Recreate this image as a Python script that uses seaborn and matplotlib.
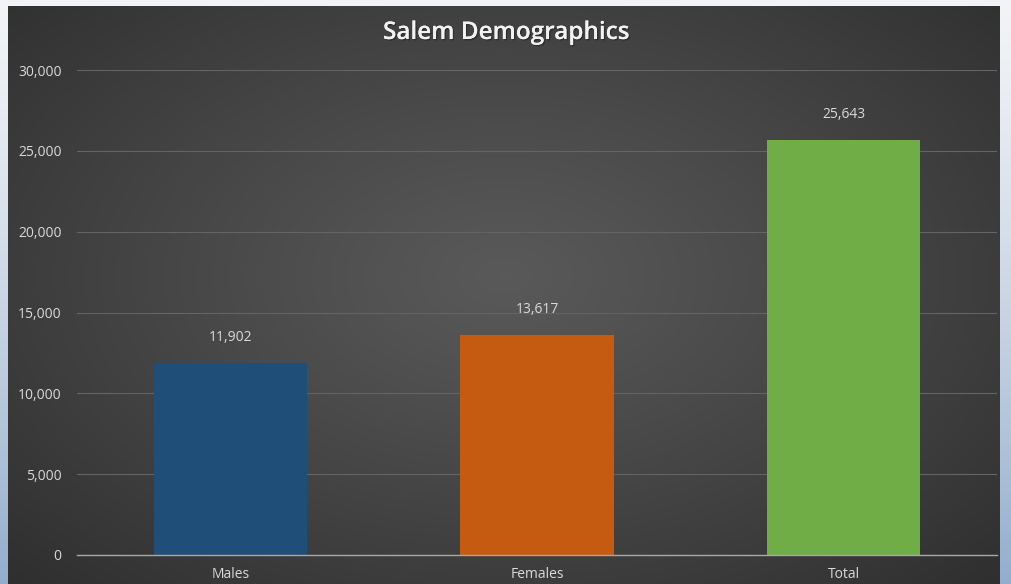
import numpy as np
import pandas as pd
import matplotlib
matplotlib.use("Agg")
import matplotlib.pyplot as plt
import matplotlib.patheffects as pe
import seaborn as sns
from matplotlib.ticker import FuncFormatter

categories = ["Males", "Females", "Total"]
population = [11902, 13617, 25643]
bar_colors = ["#1F4E79", "#C55A11", "#70AD47"]
y_ticks = [0, 5000, 10000, 15000, 20000, 25000, 30000]

df = pd.DataFrame({"group": categories, "count": population})

sns.set_theme(style="dark")
plt.rcParams["font.family"] = ["Open Sans", "DejaVu Sans"]

W, H = 1012, 584
fig = plt.figure(figsize=(W / 100, H / 100), dpi=100)

# outer frame: light top fading to blue-grey at the bottom
frame = fig.add_axes([0, 0, 1, 1], zorder=-3)
v = np.linspace(0, 1, 200)[:, None]
top = np.array([0.95, 0.955, 0.965])
bot = np.array([0.58, 0.68, 0.80])
grad = top + (bot - top) * (v[..., None] ** 1.3)
frame.imshow(np.repeat(grad, 2, axis=1), aspect="auto", extent=[0, 1, 0, 1])
frame.set_axis_off()

# dark radial gradient chart area
bg = fig.add_axes([8 / W, 0, 992 / W, 578 / H], zorder=-2)
yy, xx = np.mgrid[0:300, 0:500]
cx, cy = 250, 140
r = np.sqrt(((xx - cx) / 250) ** 2 + ((yy - cy) / 160) ** 2)
r = np.clip(r / 1.55, 0, 1)
val = 0.35 - (0.35 - 0.165) * r ** 1.1
bg.imshow(np.dstack([val, val, val]), aspect="auto", extent=[0, 1, 0, 1])
bg.set_axis_off()

ax = fig.add_axes([77 / W, 1 - 555 / H, 920 / W, (555 - 70) / H])
ax.set_facecolor("none")
sns.barplot(data=df, x="group", y="count", hue="group", palette=bar_colors,
            width=0.5, legend=False, ax=ax, saturation=1, linewidth=0)
ax.set_xlim(-0.5, 2.5)
ax.set_ylim(0, 30000)
ax.set_yticks(y_ticks)
ax.yaxis.set_major_formatter(FuncFormatter(lambda x, p: f"{int(x):,}"))
ax.grid(axis="y", color="#646464", linewidth=0.8)
ax.grid(axis="x", visible=False)
ax.set_axisbelow(True)
for s in ["top", "right", "left"]:
    ax.spines[s].set_visible(False)
ax.spines["bottom"].set_color("#a8a8a8")
ax.spines["bottom"].set_linewidth(1.0)
ax.tick_params(axis="both", length=0, colors="#d9d9d9", labelsize=10)
ax.tick_params(axis="y", pad=11)
ax.tick_params(axis="x", pad=9)
ax.set_xlabel("")
ax.set_ylabel("")

for i, val_ in enumerate(population):
    ax.annotate(f"{val_:,}", (i, val_), xytext=(0, 13), textcoords="offset points",
                ha="center", va="bottom", color="#d9d9d9", fontsize=10)

fig.text(0.5, 1 - 33 / H, "Salem Demographics", ha="center", va="center",
         color="#f2f2f2", fontsize=17.5, fontweight="semibold",
         path_effects=[pe.withSimplePatchShadow(offset=(1, -1), shadow_rgbFace="black", alpha=0.3),
                       pe.Normal()])

fig.savefig("out.png", dpi=100)
